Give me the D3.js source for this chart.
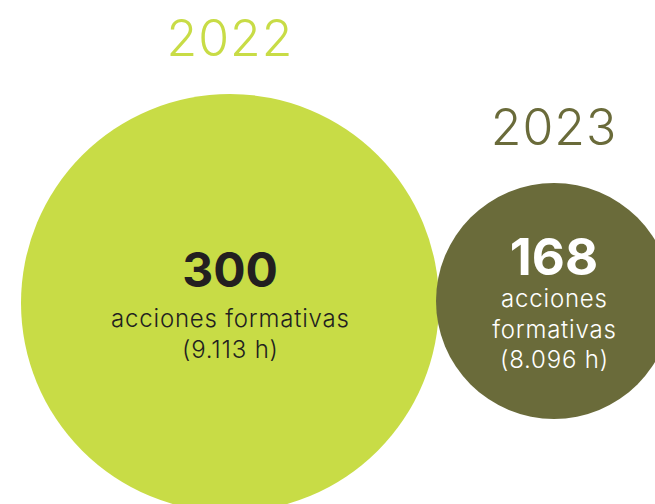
<!DOCTYPE html>
<meta charset="UTF-8">
<style>
body { margin: 0; background: #fff; }
svg text { font-family: Inter, "Noto Sans", sans-serif; }
</style>
<body>
<script src="https://cdn.jsdelivr.net/npm/d3@7"></script>
<script>
// data
var years = ["2022", "2023"];
var actions = [300, 168];
var hours = ["9.113 h", "8.096 h"];
var labelLines = [["acciones formativas"], ["acciones", "formativas"]];

var width = 655, height = 504;

var svg = d3.select("body").append("svg")
    .attr("width", width)
    .attr("height", height);

// bubble size (not proportional in the original, so linear between the two)
var r = d3.scaleLinear().domain([168, 300]).range([118, 209]);
var x = d3.scaleOrdinal().domain(years).range([230, 554]);
var cy = d3.scaleOrdinal().domain(years).range([303, 301]);
var fill = d3.scaleOrdinal().domain(years).range(["#c8dc46", "#6a6b3a"]);
var ink = d3.scaleOrdinal().domain(years).range(["#231f20", "#ffffff"]);

var rows = years.map(function(y, i) {
  return {year: y, value: actions[i], hours: hours[i], lines: labelLines[i]};
});

var g = svg.selectAll("g.bubble")
    .data(rows)
  .enter().append("g")
    .attr("class", "bubble");

g.append("circle")
    .attr("cx", function(d) { return x(d.year); })
    .attr("cy", function(d) { return cy(d.year); })
    .attr("r", function(d) { return r(d.value); })
    .style("fill", function(d) { return fill(d.year); });

// year label above each bubble
g.append("text")
    .attr("x", function(d) { return x(d.year); })
    .attr("y", function(d) { return cy(d.year) - r(d.value) - 38; })
    .attr("text-anchor", "middle")
    .style("font-size", "50px")
    .style("font-weight", 300)
    .style("letter-spacing", "1px")
    .style("fill", function(d) { return fill(d.year); })
    .text(function(d) { return d.year; });

// number
g.append("text")
    .attr("x", function(d) { return x(d.year); })
    .attr("y", function(d, i) { return i == 0 ? 287 : 275; })
    .attr("text-anchor", "middle")
    .style("font-size", function(d, i) { return i == 0 ? "48px" : "51px"; })
    .style("font-weight", 700)
    .style("fill", function(d) { return ink(d.year); })
    .text(function(d) { return d.value; });

// description lines
g.each(function(d, i) {
  var lines = d.lines.concat(["(" + d.hours + ")"]);
  var y0 = i == 0 ? 327 : 307;
  d3.select(this).selectAll("text.desc")
      .data(lines)
    .enter().append("text")
      .attr("class", "desc")
      .attr("x", x(d.year) + 0.4)
      .attr("y", function(t, j) { return y0 + j * 30.5; })
      .attr("text-anchor", "middle")
      .style("font-size", "24px")
      .style("font-weight", 350)
      .style("letter-spacing", "0.8px")
      .style("fill", ink(d.year))
      .text(function(t) { return t; });
});
</script>
</body>
